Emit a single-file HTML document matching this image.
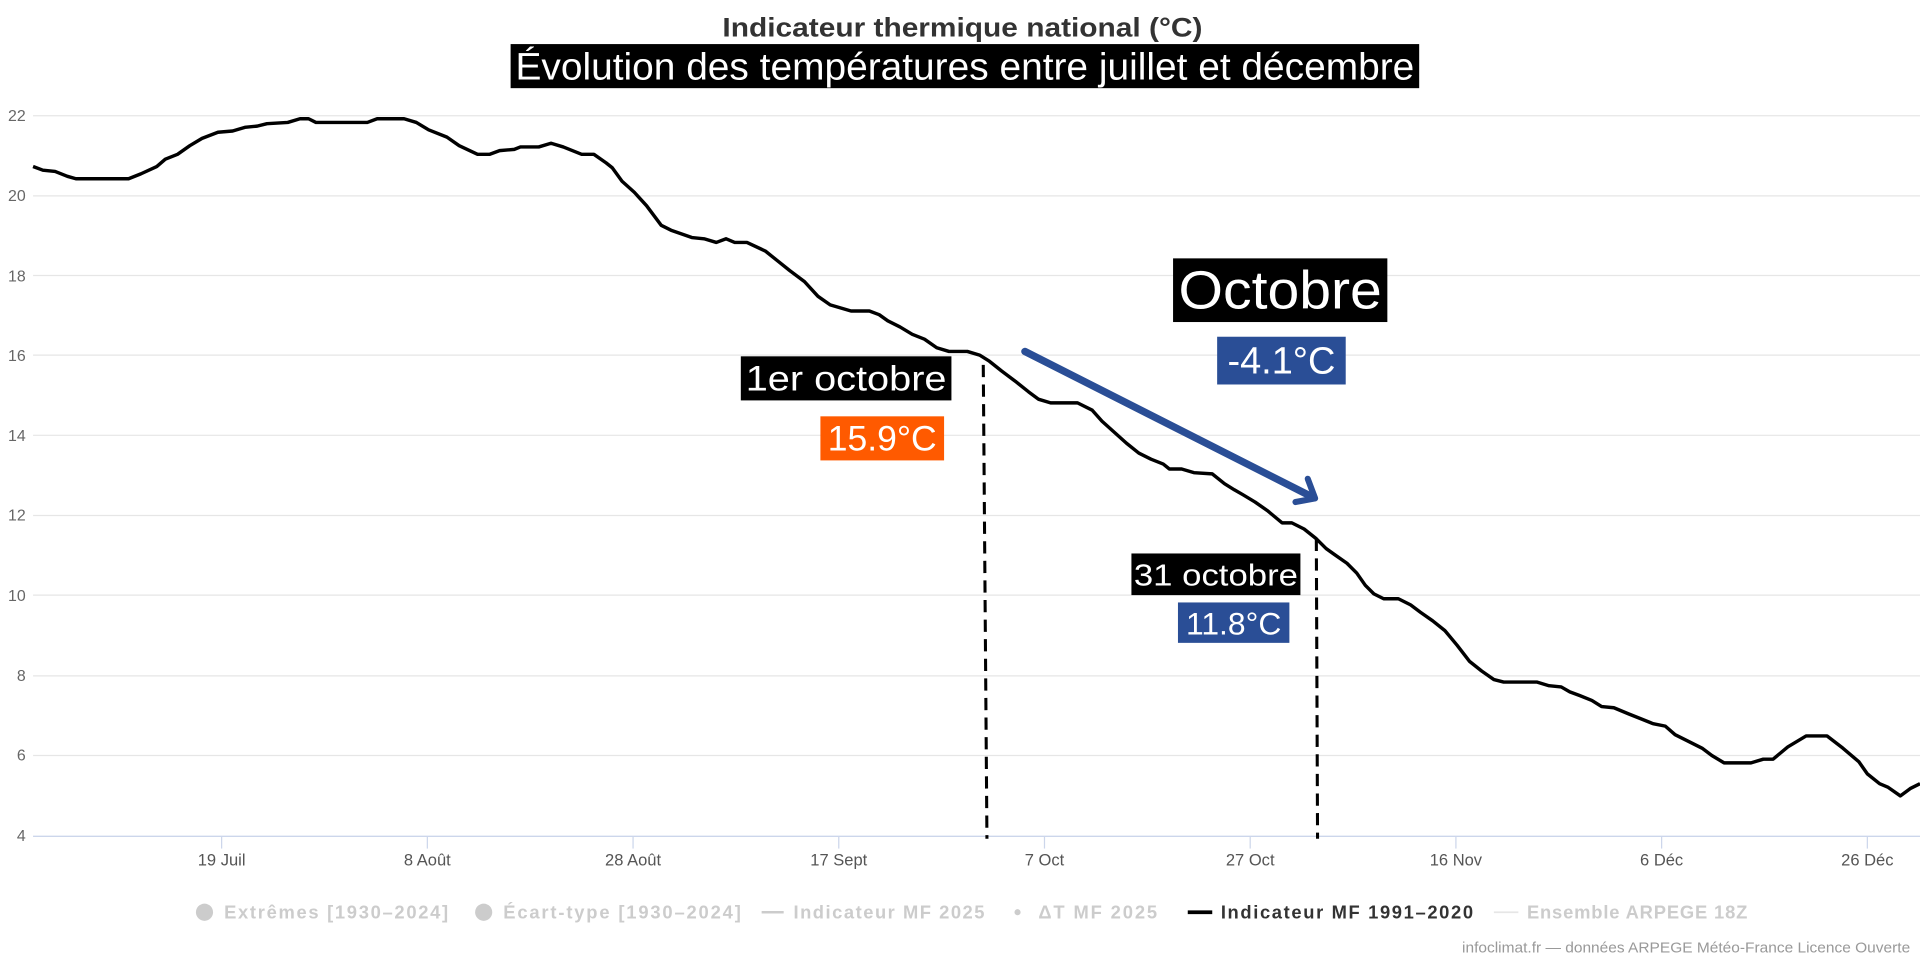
<!DOCTYPE html>
<html><head><meta charset="utf-8"><style>html,body{margin:0;padding:0;background:#fff}svg{display:block}</style></head>
<body>
<svg width="1920" height="960" viewBox="0 0 1568 784" xmlns="http://www.w3.org/2000/svg" font-family="Liberation Sans, DejaVu Sans, sans-serif">
<g stroke="#e6e6e6" stroke-width="1">
<line x1="27" x2="1568" y1="94.5" y2="94.5"/><line x1="27" x2="1568" y1="160" y2="160"/><line x1="27" x2="1568" y1="225" y2="225"/><line x1="27" x2="1568" y1="290" y2="290"/><line x1="27" x2="1568" y1="355.5" y2="355.5"/><line x1="27" x2="1568" y1="421" y2="421"/><line x1="27" x2="1568" y1="486" y2="486"/><line x1="27" x2="1568" y1="552" y2="552"/><line x1="27" x2="1568" y1="617" y2="617"/>
</g>
<line x1="27" x2="1568" y1="683" y2="683" stroke="#ccd6eb" stroke-width="1.2"/>
<g stroke="#ccd6eb" stroke-width="1"><line x1="181" x2="181" y1="683" y2="693"/><line x1="349" x2="349" y1="683" y2="693"/><line x1="517" x2="517" y1="683" y2="693"/><line x1="685" x2="685" y1="683" y2="693"/><line x1="853" x2="853" y1="683" y2="693"/><line x1="1021" x2="1021" y1="683" y2="693"/><line x1="1189" x2="1189" y1="683" y2="693"/><line x1="1357" x2="1357" y1="683" y2="693"/><line x1="1525" x2="1525" y1="683" y2="693"/></g>
<g fill="#666" font-size="13" text-anchor="end">
<text x="21" y="99">22</text><text x="21" y="164">20</text><text x="21" y="230">18</text><text x="21" y="295">16</text><text x="21" y="360">14</text><text x="21" y="425">12</text><text x="21" y="491">10</text><text x="21" y="556">8</text><text x="21" y="621">6</text><text x="21" y="687">4</text>
</g>
<g fill="#555" font-size="13.5" text-anchor="middle">
<text x="181" y="707">19 Juil</text><text x="349" y="707">8 Août</text><text x="517" y="707">28 Août</text><text x="685" y="707">17 Sept</text><text x="853" y="707">7 Oct</text><text x="1021" y="707">27 Oct</text><text x="1189" y="707">16 Nov</text><text x="1357" y="707">6 Déc</text><text x="1525" y="707">26 Déc</text>
</g>
<polyline fill="none" stroke="#000" stroke-width="2.8" stroke-linejoin="round" points="27,136 35,139 45,140 55,144 62,146 105,146 115,142 128,136 135,130 145,126 155,119 165,113 178,108 190,107 200,104 210,103 218,101 235,100 245,97 252,97 258,100 300,100 308,97 330,97 340,100 350,106 365,112 375,119 390,126 400,126 408,123 420,122 425,120 440,120 450,117 460,120 475,126 485,126 495,133 500,137 508,148 518,157 528,168 540,184 548,188 565,194 575,195 585,198 593,195 600,198 610,198 625,205 635,213 645,221 657,230 668,242 678,249 695,254 710,254 718,257 725,262 735,267 745,273 755,277 765,284 775,287 790,287 800,290 808,295 818,303 830,312 840,320 848,326 858,329 880,329 892,335 900,344 910,353 920,362 930,370 940,375 950,379 955,383 965,383 975,386 990,387 1000,395 1008,400 1015,404 1025,410 1035,417 1047,427 1055,427 1065,432 1075,440 1083,448 1090,453 1100,460 1108,468 1115,478 1122,485 1130,489 1142,489 1152,494 1160,500 1170,507 1180,515 1190,527 1200,540 1210,548 1220,555 1228,557 1255,557 1265,560 1275,561 1282,565 1290,568 1300,572 1308,577 1318,578 1330,583 1340,587 1350,591 1360,593 1368,600 1378,605 1390,611 1398,617 1408,623 1430,623 1440,620 1448,620 1460,610 1475,601 1492,601 1505,611 1518,622 1525,632 1535,640 1542,643 1552,650 1560,644 1568,640"/>
<g stroke="#000" stroke-width="2.5" stroke-dasharray="10,6"><line x1="803" x2="806" y1="298" y2="685"/><line x1="1075" x2="1076" y1="440" y2="685"/></g>
<line x1="837" y1="287" x2="1070" y2="405" stroke="#2a4e96" stroke-width="6" stroke-linecap="round"/>
<polyline points="1068,391 1074,407 1058,410" fill="none" stroke="#2a4e96" stroke-width="5" stroke-linecap="round" stroke-linejoin="round"/>
<text x="786" y="30" text-anchor="middle" font-size="22" font-weight="bold" fill="#333" textLength="392" lengthAdjust="spacingAndGlyphs">Indicateur thermique national (°C)</text>
<rect x="417" y="36" width="742" height="36" fill="#000"/>
<text x="788" y="65" text-anchor="middle" font-size="31" fill="#fff" textLength="734" lengthAdjust="spacingAndGlyphs">Évolution des températures entre juillet et décembre</text>
<rect x="958" y="211" width="175" height="52" fill="#000"/><text x="1045.5" y="252" text-anchor="middle" font-size="44" fill="#fff" textLength="166" lengthAdjust="spacingAndGlyphs">Octobre</text>
<rect x="994" y="275" width="105" height="39" fill="#2a4e96"/><text x="1046.5" y="305" text-anchor="middle" font-size="31" fill="#fff">-4.1°C</text>
<rect x="605" y="291" width="172" height="36" fill="#000"/><text x="691" y="319" text-anchor="middle" font-size="29" fill="#fff" textLength="164" lengthAdjust="spacingAndGlyphs">1er octobre</text>
<rect x="670" y="340" width="101" height="36" fill="#ff5a00"/><text x="720.5" y="368" text-anchor="middle" font-size="29" fill="#fff">15.9°C</text>
<rect x="924" y="452" width="138" height="34" fill="#000"/><text x="993" y="478" text-anchor="middle" font-size="25" fill="#fff" textLength="134" lengthAdjust="spacingAndGlyphs">31 octobre</text>
<rect x="962" y="492" width="91" height="33" fill="#2a4e96"/><text x="1007.5" y="518" text-anchor="middle" font-size="26" fill="#fff">11.8°C</text>
<g font-size="15" font-weight="bold" fill="#ccc" lengthAdjust="spacingAndGlyphs">
<circle cx="167" cy="745" r="7"/><text x="183" y="750" textLength="183">Extrêmes [1930–2024]</text>
<circle cx="395" cy="745" r="7"/><text x="411" y="750" textLength="194">Écart-type [1930–2024]</text>
<line x1="622" x2="640" y1="745" y2="745" stroke="#ccc" stroke-width="2"/><text x="648" y="750" textLength="156">Indicateur MF 2025</text>
<circle cx="831" cy="745" r="2.5"/><text x="848" y="750" textLength="97">ΔT MF 2025</text>
<line x1="970" x2="990" y1="745" y2="745" stroke="#000" stroke-width="3"/><text x="997" y="750" fill="#333" textLength="206">Indicateur MF 1991–2020</text>
<line x1="1220" x2="1240" y1="745" y2="745" stroke="#e6e6e6" stroke-width="1.5"/><text x="1247" y="750" textLength="180">Ensemble ARPEGE 18Z</text>
</g>
<text x="1560" y="778" text-anchor="end" font-size="12" fill="#999" textLength="366" lengthAdjust="spacingAndGlyphs">infoclimat.fr — données ARPEGE Météo-France Licence Ouverte</text>
</svg>
</body></html>
